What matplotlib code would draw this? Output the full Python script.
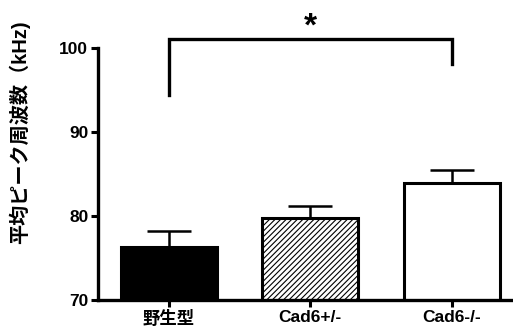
import numpy as np
import matplotlib.pyplot as plt

plt.rcParams['font.family'] = ['Liberation Sans', 'Noto Sans CJK JP', 'DejaVu Sans']
plt.rcParams['hatch.color'] = '#666666'
plt.rcParams['hatch.linewidth'] = 0.8

groups = ['野生型', 'Cad6+/-', 'Cad6-/-']
means = [76.3, 79.8, 83.9]
sems = [1.9, 1.4, 1.6]
yticks = [70, 80, 90, 100]

fig = plt.figure(figsize=(5.13, 3.31), dpi=100)
ax = fig.add_axes([98/513, 31/331, 413/513, 252/331])

x = np.arange(len(groups))
faces = ['black', 'white', 'white']
hatches = [None, '//////', None]
for i in range(len(groups)):
    ax.bar(x[i], means[i], width=0.68, bottom=0, color=faces[i], edgecolor='black',
           linewidth=2.2, hatch=hatches[i], zorder=2)
ax.errorbar(x, means, yerr=[np.zeros(3), sems], fmt='none', ecolor='black',
            elinewidth=1.8, capsize=16, capthick=1.8, zorder=1)

ax.set_ylim(70, 100)
ax.set_xlim(-0.5, 2.42)
ax.set_yticks(yticks)
ax.set_xticks(x)
ax.set_xticklabels(groups)
ax.tick_params(width=2.2, length=5, labelsize=12.5, pad=2)
for lab in ax.get_xticklabels() + ax.get_yticklabels():
    lab.set_fontweight('bold')
for s in ['top', 'right']:
    ax.spines[s].set_visible(False)
for s in ['left', 'bottom']:
    ax.spines[s].set_linewidth(2.4)

# significance bracket
ax.plot([0, 0, 2, 2], [94.4, 101.1, 101.1, 98.1], color='black', lw=2.4,
        clip_on=False, solid_joinstyle='miter')
ax.text(1, 100.6, '*', ha='center', va='bottom', fontsize=24, fontweight='bold',
        clip_on=False)

fig.text(19/513, 1 - 132/331, '平均ピーク周波数（kHz)', rotation=90,
         ha='center', va='center', fontsize=14.5, fontweight='bold')

fig.savefig('out.png', dpi=100)
